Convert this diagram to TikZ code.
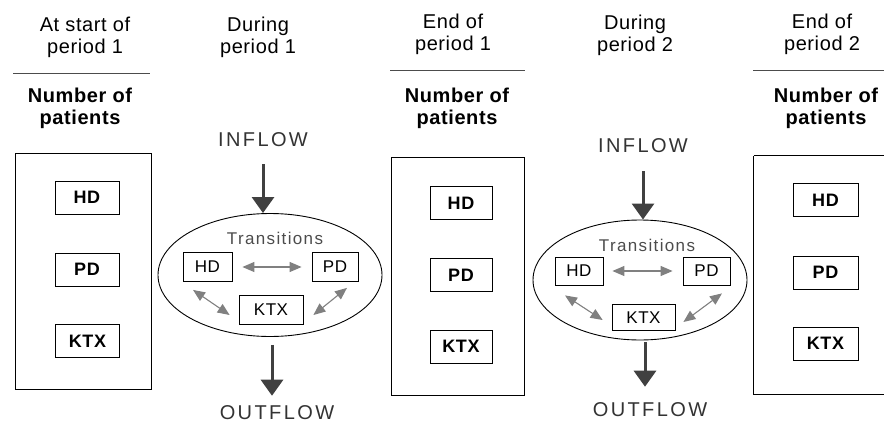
\documentclass[tikz,border=0pt]{standalone}
\usepackage{fontspec}
\setmainfont{Liberation Sans}
\newfontfamily\flowfont[LetterSpace=12]{Liberation Sans}
\newfontfamily\transfont[LetterSpace=8]{Liberation Sans}
\newfontfamily\headfont[LetterSpace=3]{Liberation Sans}
\usetikzlibrary{arrows.meta,calc,shapes.geometric}
\begin{document}
\begin{tikzpicture}[x=1pt,y=-1pt,
  header/.style={align=center,font=\headfont\fontsize{20}{22}\selectfont,inner sep=0},
  counthead/.style={align=center,font=\headfont\bfseries\fontsize{20}{22}\selectfont,inner sep=0},
  bigbox/.style={draw,line width=0.9pt,inner sep=0},
  boxline/.style={line width=0.9pt},
  statebox/.style={draw,line width=0.8pt,minimum width=64pt,minimum height=33pt,inner sep=0,font=\headfont\bfseries\fontsize{18}{18}\selectfont},
  transbox/.style={draw,line width=0.8pt,minimum height=29pt,inner sep=0,font=\headfont\fontsize{17}{17}\selectfont},
  translabel/.style={inner sep=0,font=\transfont\fontsize{17}{17}\selectfont,text=black!70},
  flowtext/.style={inner sep=0,font=\flowfont\fontsize{20}{20}\selectfont,text=black!80},
  fatarrow/.style={line width=3pt,draw=black!75,-{Triangle[length=16pt,width=22pt]}},
  duo/.style={line width=1.1pt,draw=black!50,{Triangle[length=12pt,width=10pt]}-{Triangle[length=12pt,width=10pt]}},
  rule/.style={line width=1pt,draw=black!70},
  pool/.style={ellipse,draw,line width=0.9pt,inner sep=0}]
\useasboundingbox (0,0) rectangle (884,423);

% headers
\node[header] (h1) at (85,37) {At start of\\period 1};
\node[header] (h2) at (258,37) {During\\period 1};
\node[header] (h3) at (453,34) {End of\\period 1};
\node[header] (h4) at (635,35) {During\\period 2};
\node[header] (h5) at (822,34) {End of\\period 2};

\draw[rule] (13,73) -- (150,73);
\draw[rule] (390,70) -- (525,70);
\draw[rule] (753,70) -- (884,70);

\node[counthead] (n1) at (80,108) {Number of\\patients};
\node[counthead] (n3) at (457,108) {Number of\\patients};
\node[counthead] (n5) at (826,108) {Number of\\patients};

% stock boxes
\node[bigbox,minimum width=136pt,minimum height=236pt] (box1) at (83,271) {};
\node[statebox] (hdA) at (87,197.5) {HD};
\node[statebox] (pdA) at (87,269.5) {PD};
\node[statebox] (ktA) at (87.5,341) {KTX};

\node[bigbox,minimum width=133pt,minimum height=238pt] (box3) at (457.5,276) {};
\node[statebox,minimum width=62pt] (hdC) at (461,203) {HD};
\node[statebox,minimum width=62pt] (pdC) at (461,275) {PD};
\node[statebox,minimum width=62pt] (ktC) at (461,346.5) {KTX};

\node[inner sep=0,minimum width=140pt,minimum height=238pt] (box5) at (824,275) {};
\draw[boxline] (box5.north west) -- ++(131,0);
\draw[boxline] (box5.north west) -- (box5.south west) -- ++(131,0);
\node[statebox,minimum width=65pt] (hdE) at (825.5,200) {HD};
\node[statebox,minimum width=65pt] (pdE) at (825.5,272.5) {PD};
\node[statebox,minimum width=65pt] (ktE) at (825.5,343.5) {KTX};

% period 1 flows
\node[flowtext] (in1) at (263,140) {INFLOW};
\node[pool,minimum width=224pt,minimum height=123pt] (ell1) at (270,275) {};
\node[translabel] (tr1) at (275,238) {Transitions};
\node[transbox,minimum width=49pt] (hdB) at (207.5,267) {HD};
\node[transbox,minimum width=46pt] (pdB) at (335,267) {PD};
\node[transbox,minimum width=64pt] (ktB) at (271,310) {KTX};
\node[flowtext] (out1) at (277,413) {OUTFLOW};

\draw[fatarrow,shorten <=17pt] (in1.south) -- (in1.south |- ell1.north);
\draw[fatarrow,shorten <=8pt,shorten >=10pt] ($(ell1.south)+(2,0)$) -- ($(ell1.south |- out1.north)+(2,0)$);
\draw[duo,shorten <=10pt,shorten >=10pt] (hdB.east) -- (pdB.west);
\draw[duo] ($(hdB.south)+(-14.5,8)$) -- ($(ktB.west)+(-9,5)$);
\draw[duo] ($(pdB.south)+(12,6)$) -- ($(ktB.east)+(10,5)$);

% period 2 flows
\node[flowtext] (in2) at (643,146) {INFLOW};
\node[pool,minimum width=214pt,minimum height=120pt] (ell2) at (640,280) {};
\node[translabel] (tr2) at (647,245) {Transitions};
\node[transbox,minimum width=48pt,minimum height=28pt] (hdD) at (579,271) {HD};
\node[transbox,minimum width=47pt,minimum height=28pt] (pdD) at (706.5,271) {PD};
\node[transbox,minimum width=63pt,minimum height=26pt] (ktD) at (643.5,317.5) {KTX};
\node[flowtext] (out2) at (650,410) {OUTFLOW};

\draw[fatarrow,shorten <=18pt] (in2.south) -- (in2.south |- ell2.north);
\draw[fatarrow,shorten <=2pt,shorten >=16pt] ($(ell2.south)+(5,0)$) -- ($(ell2.south |- out2.north)+(5,0)$);
\draw[duo,shorten <=9pt,shorten >=10pt] (hdD.east) -- (pdD.west);
\draw[duo] ($(hdD.south)+(-14,10)$) -- ($(ktD.west)+(-9,2.5)$);
\draw[duo] ($(pdD.south)+(15.5,8)$) -- ($(ktD.east)+(8,4.5)$);
\end{tikzpicture}
\end{document}
